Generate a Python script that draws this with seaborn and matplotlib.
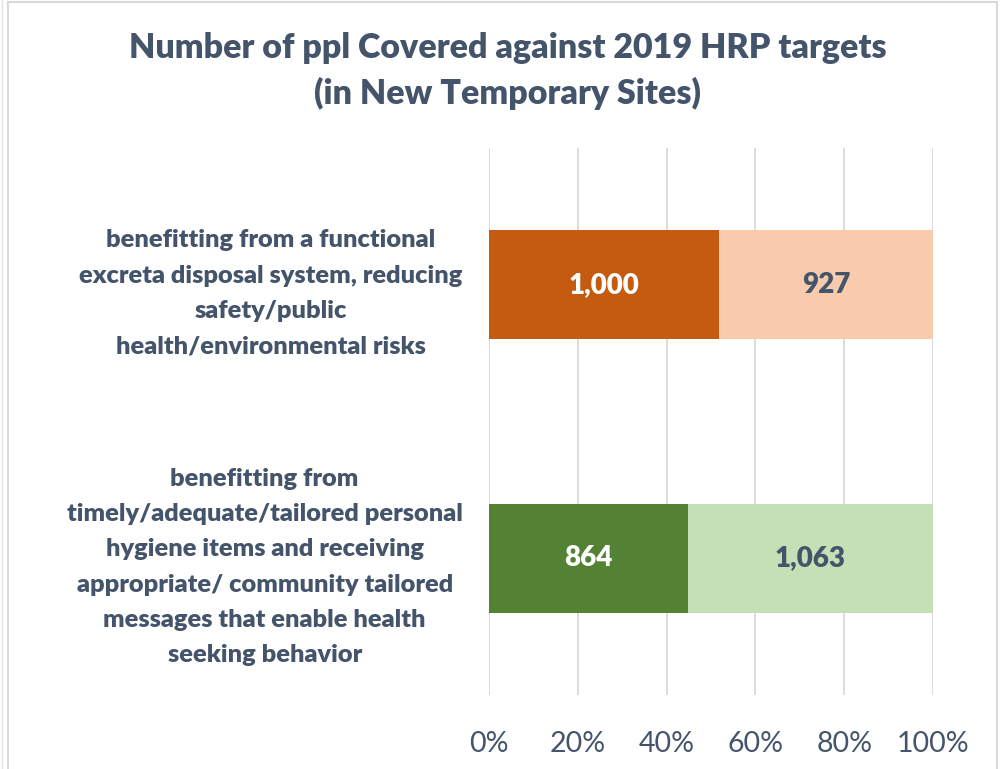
import pandas as pd
import matplotlib.pyplot as plt
import seaborn as sns
from matplotlib.patches import Rectangle
from matplotlib.lines import Line2D

# data
categories = [
    "benefitting from a functional\nexcreta disposal system, reducing\nsafety/public\nhealth/environmental risks",
    "benefitting from\ntimely/adequate/tailored personal\nhygiene items and receiving\nappropriate/ community tailored\nmessages that enable health\nseeking behavior",
]
covered = [1000, 864]
remaining = [927, 1063]
x_ticks = [0, 20, 40, 60, 80, 100]
x_tick_labels = ["0%", "20%", "40%", "60%", "80%", "100%"]

dark_colors = ["#C55A11", "#548235"]
light_colors = ["#F8CBAD", "#C5E0B4"]
text_color = "#44546A"
weight = "heavy"

sns.set_theme(style="white")
plt.rcParams['font.family'] = ['Lato', 'DejaVu Sans']

df = pd.DataFrame({"category": categories, "covered": covered, "remaining": remaining})
df["total"] = df["covered"] + df["remaining"]
df["covered_pct"] = df["covered"] / df["total"] * 100
df["full_pct"] = 100.0

fig = plt.figure(figsize=(10.03, 7.69), dpi=100)
ax = fig.add_axes([0.4875, 0.0962, 0.4427, 0.7113])

# full bar (light) then the covered share (dark) on top of it
sns.barplot(data=df, y="category", x="full_pct", hue="category", palette=light_colors,
            width=0.4, saturation=1, legend=False, ax=ax, orient="h", linewidth=0)
sns.barplot(data=df, y="category", x="covered_pct", hue="category", palette=dark_colors,
            width=0.4, saturation=1, legend=False, ax=ax, orient="h", linewidth=0)

for i, row in df.iterrows():
    ax.text(row["covered_pct"] / 2, i, f"{row['covered']:,}", ha="center", va="center",
            color="white", fontsize=20, fontweight=weight)
    ax.text(row["covered_pct"] + (100 - row["covered_pct"]) / 2, i, f"{row['remaining']:,}",
            ha="center", va="center", color=text_color, fontsize=20, fontweight=weight)

ax.set_xlim(0, 100)
ax.set_ylim(1.5, -0.5)
ax.set_xticks(x_ticks)
ax.set_xticklabels(x_tick_labels)
ax.set_xlabel("")
ax.set_ylabel("")
ax.xaxis.grid(True, color="#D9D9D9", linewidth=1.3)
ax.set_axisbelow(True)
for s in ax.spines.values():
    s.set_visible(False)

ax.tick_params(axis="x", length=0, pad=26, labelsize=20.5, labelcolor=text_color)
ax.tick_params(axis="y", length=0, pad=19, labelsize=18.3, labelcolor=text_color)
for lbl in ax.get_yticklabels():
    lbl.set_fontweight(weight)
    lbl.set_multialignment("center")
    lbl.set_linespacing(1.74)

fig.text(0.506, 0.9077, "Number of ppl Covered against 2019 HRP targets\n(in New Temporary Sites)",
         ha="center", va="center", fontsize=24.5, fontweight=weight, color=text_color,
         linespacing=1.47)

# chart-area frame
fig.add_artist(Rectangle((0.008, -0.01), 0.986, 1.007, transform=fig.transFigure,
                         fill=False, edgecolor="#D9D9D9", linewidth=1.5))
fig.add_artist(Line2D([0.002, 0.002], [0, 1], transform=fig.transFigure,
                      color="#E3E3E3", linewidth=1))

fig.savefig("out.png", dpi=100)
